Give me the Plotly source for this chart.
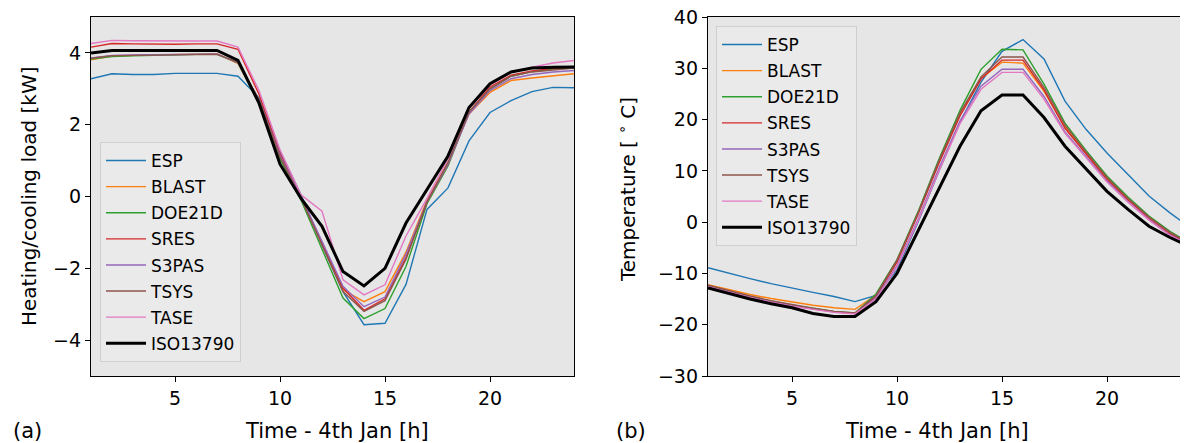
import plotly.graph_objects as go

hours = list(range(1, 25))
names = ["ESP", "BLAST", "DOE21D", "SRES", "S3PAS", "TSYS", "TASE", "ISO13790"]
colors = ["#1f77b4", "#ff7f0e", "#2ca02c", "#d62728", "#9467bd", "#8c564b", "#e377c2", "#000000"]

# (a) Heating/cooling load [kW]
ESP_load = [3.28, 3.42, 3.40, 3.40, 3.43, 3.44, 3.43, 3.35, 2.75, 1.25, 0.05, -1.35, -2.65, -3.57, -3.53, -2.45, -0.36, 0.24, 1.55, 2.34, 2.67, 2.92, 3.04, 3.03]
BLAST_load = [3.81, 3.91, 3.93, 3.94, 3.96, 3.97, 3.98, 3.70, 2.65, 1.10, -0.05, -1.30, -2.60, -2.93, -2.65, -1.55, -0.10, 0.95, 2.30, 2.90, 3.23, 3.30, 3.35, 3.42]
DOE21D_load = [3.83, 3.90, 3.92, 3.94, 3.95, 3.96, 3.96, 3.72, 2.60, 1.05, -0.10, -1.45, -2.83, -3.40, -3.12, -1.95, -0.20, 0.85, 2.35, 3.00, 3.35, 3.48, 3.55, 3.58]
SRES_load = [4.16, 4.26, 4.25, 4.24, 4.24, 4.25, 4.25, 4.10, 2.85, 1.20, 0.00, -1.30, -2.55, -3.17, -2.85, -1.70, -0.15, 0.90, 2.35, 3.05, 3.38, 3.50, 3.57, 3.60]
S3PAS_load = [3.86, 3.93, 3.94, 3.95, 3.96, 3.96, 3.97, 3.72, 2.70, 1.15, 0.00, -1.25, -2.50, -3.07, -2.80, -1.60, -0.15, 0.90, 2.30, 2.95, 3.28, 3.40, 3.47, 3.51]
TSYS_load = [3.85, 3.92, 3.93, 3.94, 3.95, 3.95, 3.96, 3.74, 2.70, 1.10, -0.05, -1.35, -2.65, -3.20, -2.90, -1.75, -0.15, 0.95, 2.35, 3.00, 3.35, 3.47, 3.52, 3.58]
TASE_load = [4.26, 4.35, 4.34, 4.33, 4.33, 4.33, 4.33, 4.16, 2.95, 1.30, 0.05, -0.41, -2.32, -2.74, -2.46, -1.10, -0.05, 1.05, 2.45, 3.10, 3.45, 3.60, 3.72, 3.79]
ISO_load = [4.00, 4.07, 4.07, 4.07, 4.07, 4.07, 4.07, 3.79, 2.60, 0.90, -0.05, -0.83, -2.09, -2.49, -2.00, -0.74, 0.20, 1.13, 2.48, 3.14, 3.47, 3.58, 3.60, 3.61]

# (b) Temperature [deg C]
ESP_T = [-8.9, -10.0, -11.0, -12.0, -12.9, -13.7, -14.5, -15.5, -14.3, -9.3, 0.0, 10.0, 19.5, 27.3, 33.3, 35.6, 31.8, 23.6, 18.1, 13.5, 9.3, 5.1, 1.8, -1.2]
BLAST_T = [-12.2, -13.2, -14.1, -14.9, -15.6, -16.2, -16.7, -17.0, -14.2, -7.5, 1.8, 12.0, 21.0, 28.0, 31.2, 31.0, 25.5, 18.5, 13.5, 8.6, 4.6, 1.0, -2.0, -4.3]
DOE21D_T = [-12.4, -13.5, -14.5, -15.4, -16.2, -16.8, -17.4, -17.7, -14.0, -7.3, 2.0, 12.3, 21.8, 29.8, 33.7, 33.6, 26.9, 19.3, 14.0, 9.0, 4.9, 1.2, -1.8, -4.2]
SRES_T = [-12.5, -13.6, -14.6, -15.5, -16.3, -16.9, -17.5, -17.8, -14.5, -7.8, 1.5, 11.5, 20.7, 27.9, 31.6, 31.6, 25.8, 18.3, 13.3, 8.3, 4.3, 0.7, -2.3, -4.4]
S3PAS_T = [-12.5, -13.6, -14.6, -15.5, -16.3, -16.9, -17.5, -17.8, -14.8, -8.5, 0.5, 10.5, 19.7, 26.5, 29.8, 29.8, 24.5, 17.6, 12.8, 8.0, 4.0, 0.5, -2.5, -4.6]
TSYS_T = [-12.3, -13.4, -14.4, -15.3, -16.1, -16.8, -17.4, -17.7, -14.3, -7.4, 1.8, 12.0, 21.3, 28.3, 32.2, 32.2, 26.3, 18.9, 13.7, 8.7, 4.6, 1.0, -2.0, -4.3]
TASE_T = [-12.6, -13.7, -14.7, -15.6, -16.4, -17.0, -17.6, -17.9, -15.0, -8.8, 0.2, 10.0, 19.2, 25.9, 29.2, 29.2, 24.0, 17.3, 12.6, 7.8, 3.9, 0.4, -2.6, -4.7]
ISO_T = [-12.85, -14.0, -15.0, -15.9, -16.7, -17.8, -18.4, -18.4, -15.5, -10.0, -1.8, 6.5, 14.8, 21.7, 24.8, 24.8, 20.4, 14.8, 10.3, 6.0, 2.5, -0.8, -3.0, -4.9]

load_series = [ESP_load, BLAST_load, DOE21D_load, SRES_load, S3PAS_load, TSYS_load, TASE_load, ISO_load]
temp_series = [ESP_T, BLAST_T, DOE21D_T, SRES_T, S3PAS_T, TSYS_T, TASE_T, ISO_T]

x_ticks = [5, 10, 15, 20]
load_ticks = [-4, -2, 0, 2, 4]
temp_ticks = [-30, -20, -10, 0, 10, 20, 30, 40]

def lab(v):
    return str(v).replace("-", "\u2212")

FONT = "DejaVu Sans"
TICK_FS = 19
TITLE_FS = 21
LEG_FS = 17
W, H = 1188, 443
OFF = 8  # page body margin offset

fig = go.Figure()
for i, (nm, c) in enumerate(zip(names, colors)):
    lw = 3 if nm == "ISO13790" else 1.4
    fig.add_trace(go.Scatter(x=hours, y=load_series[i], mode="lines", name=nm,
                             line=dict(color=c, width=lw), xaxis="x", yaxis="y",
                             legend="legend", legendgroup="a" + nm))
for i, (nm, c) in enumerate(zip(names, colors)):
    lw = 3 if nm == "ISO13790" else 1.4
    fig.add_trace(go.Scatter(x=hours, y=temp_series[i], mode="lines", name=nm,
                             line=dict(color=c, width=lw), xaxis="x2", yaxis="y2",
                             legend="legend2", legendgroup="b" + nm))

def px_x(p):
    return (p - OFF) / W

def px_y(p):
    return 1 - (p - OFF) / H

ydom = [px_y(376), px_y(17)]
axis_common = dict(showgrid=False, zeroline=False, ticks="outside", ticklen=5,
                   tickwidth=1.2, tickcolor="black", linecolor="black", linewidth=1.3,
                   showline=True, automargin=False, ticklabeloverflow="allow",
                   tickfont=dict(family=FONT, size=TICK_FS, color="black"))

leg_common = dict(bgcolor="rgba(234,234,234,0.9)", bordercolor="#cfcfcf", borderwidth=1,
                  font=dict(family=FONT, size=LEG_FS, color="black"), tracegroupgap=1,
                  itemwidth=40)

fig.update_layout(
    width=W, height=H, margin=dict(l=0, r=0, t=0, b=0, autoexpand=False),
    paper_bgcolor="white", plot_bgcolor="#e6e6e6",
    font=dict(family=FONT, size=TICK_FS, color="black"),
    xaxis=dict(domain=[px_x(91), px_x(574)], range=[1, 24], tickvals=x_ticks,
               ticktext=[lab(v) for v in x_ticks], mirror=True, anchor="y", **axis_common),
    yaxis=dict(domain=ydom, range=[-5, 5], tickvals=load_ticks,
               ticktext=[lab(v) for v in load_ticks], mirror=True, anchor="x", **axis_common),
    xaxis2=dict(domain=[px_x(708), px_x(1188)], range=[1, 1 + (1188 - 708) / 21.0], tickvals=x_ticks,
                ticktext=[lab(v) for v in x_ticks], mirror=True, anchor="y2", **axis_common),
    yaxis2=dict(domain=ydom, range=[-30, 40], tickvals=temp_ticks,
                ticktext=[lab(v) for v in temp_ticks], mirror=False, anchor="x2", **axis_common),
    legend=dict(x=px_x(100), y=px_y(362), xanchor="left", yanchor="bottom", **leg_common),
    legend2=dict(x=px_x(716), y=px_y(26), xanchor="left", yanchor="top", **leg_common),
)

ann_font = dict(family=FONT, size=TITLE_FS, color="black")
fig.add_annotation(text="Time - 4th Jan [h]", x=px_x(337), y=px_y(431), xref="paper", yref="paper",
                   showarrow=False, font=ann_font, xanchor="center", yanchor="middle")
fig.add_annotation(text="Time - 4th Jan [h]", x=px_x(937), y=px_y(431), xref="paper", yref="paper",
                   showarrow=False, font=ann_font, xanchor="center", yanchor="middle")
fig.add_annotation(text="Heating/cooling load [kW]", x=px_x(29), y=px_y(197), xref="paper", yref="paper",
                   showarrow=False, font=dict(family=FONT, size=20, color="black"),
                   textangle=-90, xanchor="center", yanchor="middle")
fig.add_annotation(text="Temperature [ <sup>\u2218</sup> C]", x=px_x(627), y=px_y(190), xref="paper", yref="paper",
                   showarrow=False, font=dict(family=FONT, size=20, color="black"),
                   textangle=-90, xanchor="center", yanchor="middle")
fig.add_annotation(text="(a)", x=px_x(27), y=px_y(431), xref="paper", yref="paper",
                   showarrow=False, font=ann_font, xanchor="center", yanchor="middle")
fig.add_annotation(text="(b)", x=px_x(631), y=px_y(431), xref="paper", yref="paper",
                   showarrow=False, font=ann_font, xanchor="center", yanchor="middle")

fig.write_html("out.html")
